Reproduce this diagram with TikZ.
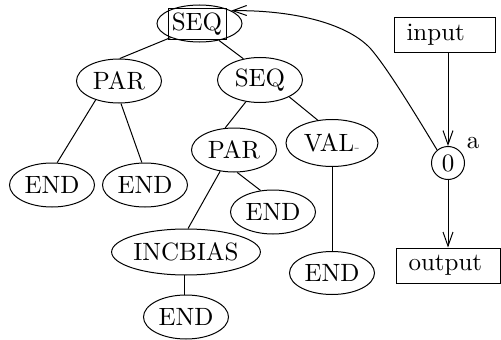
\documentclass[tikz,border=0pt]{standalone}
\usetikzlibrary{arrows.meta,shapes.geometric}
\begin{document}
\begin{tikzpicture}[x=0.4pt,y=-0.4pt,
  treenode/.style={draw, ellipse, inner sep=0pt, minimum width=34pt, minimum height=17.6pt},
  iobox/.style={draw, rectangle, inner sep=0pt, inner xsep=5pt, minimum height=14pt, align=left},
  arr/.style={-{Straight Barb[length=5.6pt,width=4pt]}}]
\useasboundingbox (0,0) rectangle (501,340);

% tree
\node[treenode, minimum height=14.8pt] (root) at (199.5,23.5) {};
\node[draw, rectangle, inner sep=0pt, minimum width=23.2pt, minimum height=12pt] (rootbox) at (197,24) {SEQ};
\node[treenode] (parL) at (119,81) {PAR};
\node[treenode] (endA) at (52,185) {END};
\node[treenode] (endB) at (145,185) {END};
\node[treenode, minimum height=18pt] (seqM) at (260,80) {SEQ};
\node[treenode] (parM) at (234,150) {PAR};
\node[treenode, minimum width=36.8pt, minimum height=18.8pt] (val) at (332,143) {VAL{\color{gray}\tiny -}};
\node[treenode] (endC) at (273,212) {END};
\node[treenode, minimum height=17.2pt] (endD) at (332,273) {END};
\node[treenode, minimum width=58.4pt, minimum height=18.4pt] (inc) at (186,252) {INCBIAS};
\node[treenode] (endE) at (186,317) {END};

\draw (root.206) -- (parL.88);
\draw (root.319) -- (seqM.128);
\draw (parL.219) -- (endA.77);
\draw (parL.275) -- (endB.98);
\draw (seqM.237) -- (parM.112);
\draw (seqM.330) -- (val.122);
\draw (parM.237) -- (inc.85);
\draw (parM.278) -- (endC.120);
\draw (val.south) -- (endD.north);
\draw (inc.266) -- (inc.266 |- endE.north);

% network
\node[iobox, text width=30.4pt] (input) at (444.5,35) {input};
\node[draw, circle, inner sep=0pt, minimum size=13.2pt] (c) at (448,163) {0};
\node (alabel) at (473,143) {a};
\node[iobox, text width=31.6pt] (output) at (448,265.5) {output};

\draw[arr] (c |- input.south) -- (c.north);
\draw[arr] (c.south) -- (c |- output.north);

% feedback link
\draw[arr] (c.130) .. controls (410,105) and (385,65) .. (370,48)
  .. controls (345,22) and (290,10) .. (root.22);
\end{tikzpicture}
\end{document}
